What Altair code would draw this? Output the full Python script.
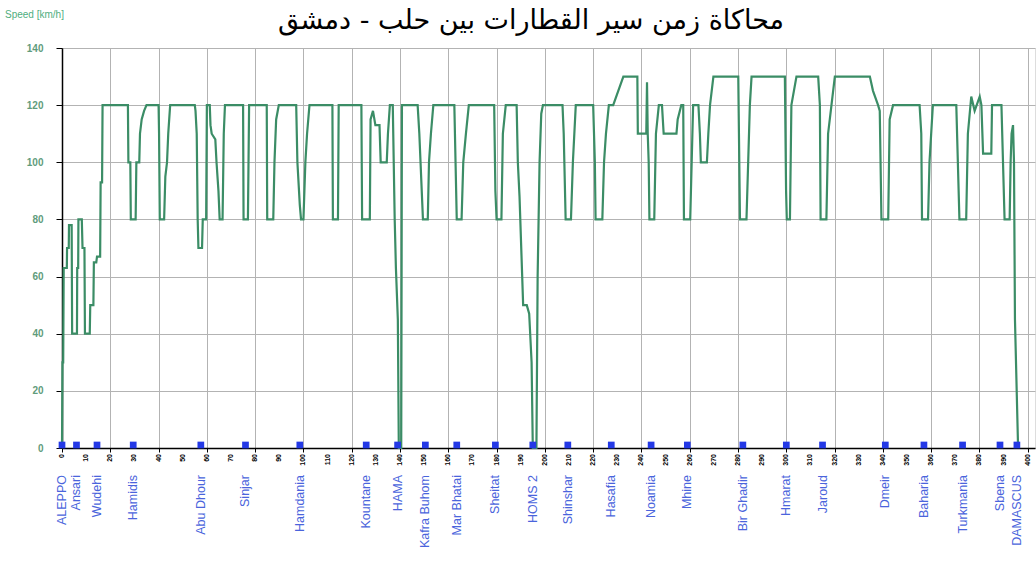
import altair as alt
import pandas as pd

# Speed profile along the line: distance (km) and train speed (km/h)
km = [
    0, 0.2, 0.5, 0.7, 2, 2.1, 2.8, 2.9, 4, 4.2, 6.2, 6.3, 6.7, 6.8, 8.2, 8.5, 9.3, 9.5,
    11.5, 11.7, 13, 13.2, 14.2, 14.5, 15.8, 16, 16.6, 16.8,
    27.3, 27.5, 28.3, 28.5, 30.5, 30.8, 32, 32.3, 33, 34, 35,
    40, 40.2, 40.5, 42.3, 42.8, 43.5, 44, 44.8,
    55, 55.3, 55.8, 56.2, 56.5, 58, 58.3, 59.7, 60, 61.2, 61.5, 62, 63.5, 64, 64.8, 65.3, 66.5, 67, 67.5,
    75, 75.2, 77, 77.5,
    84.8, 85, 87.5, 88, 88.7, 89.8,
    97, 97.5, 98.5, 99, 100, 100.8, 101.5, 102.5,
    112, 112.2, 114.3, 114.6,
    124, 124.3, 127.5, 127.8, 128.8, 129.8, 131.5, 132, 134.5, 135, 135.8,
    137, 137.8, 138.3, 139.1, 139.5, 140.5, 140.8,
    147.3, 148, 149.5, 151.5, 152, 152.8, 153.8,
    162.5, 163, 163.5, 165.5, 166.2, 167.3, 168.5,
    179, 179.5, 180, 182, 182.6, 183.8,
    188.3, 188.8, 189.5, 191, 192.5, 193.5, 194.5, 195, 196.5, 197, 197.8, 198.5, 199.2,
    207.3, 207.8, 208.6, 210.8, 211.6, 212.8,
    220, 220.7, 221, 223.8, 224.5, 225.3, 226.5,
    228.3, 232.5, 238.3, 238.5, 242, 242.3, 242.6, 243, 243.3, 245.3, 246, 247.2,
    248.5, 249.2, 254.5, 255, 256.5,
    257.3, 257.6, 260.2, 260.8, 261.4, 263.6, 264.2, 264.6, 267.1, 267.7, 268.4, 269.8,
    280.1, 280.8, 283.5, 284.2, 284.9, 285.6,
    299.4, 299.9, 300.2, 301.5, 302.1, 304.2,
    313.2, 313.9, 314.2, 316.6, 317.3, 318.7, 320.1,
    334.6, 335.9, 338.0, 338.7, 339.4, 342.2, 342.8, 344.2,
    355.2, 355.9, 356.2, 358.7, 359.3, 360.7,
    370.4, 371.7, 374.5, 375.2, 376.6, 378.0, 380.1, 380.8, 381.5, 384.9, 385.2, 389.1,
    390.4, 392.5, 392.9, 393.3, 393.9, 394.3, 394.7, 396.0,
]
speed = [
    0, 30, 30, 63, 63, 70, 70, 78, 78, 40, 40, 63, 63, 80, 80, 70, 70, 40,
    40, 50, 50, 65, 65, 67, 67, 93, 93, 120,
    120, 100, 100, 80, 80, 100, 100, 110, 115, 118, 120,
    120, 110, 80, 80, 95, 100, 110, 120,
    120, 118, 110, 80, 70, 70, 80, 80, 120, 120, 113, 110, 108, 100, 90, 80, 80, 110, 120,
    120, 80, 80, 120,
    120, 80, 80, 100, 115, 120,
    120, 100, 85, 80, 80, 100, 110, 120,
    120, 80, 80, 120,
    120, 80, 80, 115, 118, 113, 113, 100, 100, 110, 120,
    120, 80, 63, 45, 0, 0, 120,
    120, 110, 80, 80, 100, 110, 120,
    120, 100, 80, 80, 100, 110, 120,
    120, 90, 80, 80, 110, 120,
    120, 100, 88, 50, 50, 47, 30, 0, 0, 60, 100, 117, 120,
    120, 110, 80, 80, 100, 120,
    120, 100, 80, 80, 100, 110, 120,
    120, 130, 130, 110, 110, 128, 110, 100, 80, 80, 110, 120,
    120, 110, 110, 115, 120,
    120, 80, 80, 100, 120, 120, 110, 100, 100, 110, 120, 130,
    130, 80, 80, 100, 120, 130,
    130, 90, 80, 80, 120, 130,
    130, 120, 80, 80, 110, 120, 130,
    130, 125, 120, 118, 80, 80, 115, 120,
    120, 110, 80, 80, 100, 120,
    120, 80, 80, 110, 123, 118, 123, 120, 103, 103, 120, 120,
    80, 80, 100, 110, 113, 100, 45, 0,
]

# Stations along the route
station_names = [
    "ALEPPO", "Ansari", "Wudehi", "Hamidis", "Abu Dhour", "Sinjar", "Hamdania",
    "Kountane", "HAMA", "Kafra Buhom", "Mar Bhatai", "Sheitat", "HOMS 2",
    "Shinshar", "Hasafia", "Noamia", "Mhine", "Bir Ghadir", "Hmarat", "Jaroud",
    "Dmeir", "Baharia", "Turkmania", "Sbena", "DAMASCUS",
]
station_km = [
    0, 6, 14.5, 29.5, 57.5, 76, 98.5, 126, 139, 150.5, 163.5, 179.5, 195,
    209.5, 227.5, 244, 259, 282, 300, 315, 341, 357, 373, 388.5, 395.5,
]

x_ticks = list(range(0, 401, 10))
y_ticks = list(range(0, 141, 10))

TITLE = "محاكاة زمن سير القطارات بين حلب - دمشق"
Y_LABEL = "Speed [km/h]"

profile = pd.DataFrame({"km": km, "speed": speed, "seq": range(len(km))})
stations = pd.DataFrame({"station": station_names, "km": station_km,
                         "speed": [0] * len(station_km)})
ticks_df = pd.DataFrame({"km": x_ticks, "label": [str(v) for v in x_ticks]})
y_label_df = pd.DataFrame({"t": [Y_LABEL]})
title_df = pd.DataFrame({"t": [TITLE]})

x_scale = alt.Scale(domain=[0, 403], nice=False, zero=False)
y_scale = alt.Scale(domain=[0, 140], nice=False)

GRID = "#b3b3b3"

x_axis = alt.Axis(
    values=x_ticks, title=None, grid=True, gridColor=GRID, gridWidth=1,
    domainColor="#000000", domainWidth=1.5, tickColor="#000000", tickSize=4,
    labels=False,
)
y_axis = alt.Axis(
    values=y_ticks, title=None, grid=True, gridColor=GRID, gridWidth=1,
    domainColor="#000000", domainWidth=1.5, tickColor="#000000", tickSize=6,
    labelFontSize=10, labelFontWeight="bold", labelColor="#5f9c7c",
    labelPadding=13, labelFont="Liberation Sans",
)

line = alt.Chart(profile).mark_line(
    color="#3b8d66", strokeWidth=2.2, interpolate="linear"
).encode(
    x=alt.X("km:Q", scale=x_scale, axis=x_axis),
    y=alt.Y("speed:Q", scale=y_scale, axis=y_axis),
    order="seq:Q",
)

markers = alt.Chart(stations).mark_square(
    size=45, color="#2439e6", opacity=1, yOffset=-3
).encode(
    x=alt.X("km:Q", scale=x_scale),
    y=alt.Y("speed:Q", scale=y_scale),
)

# Distance labels under every 10 km tick, written upward
tick_labels = alt.Chart(ticks_df).mark_text(
    angle=270, align="right", baseline="middle", fontSize=7, fontWeight="bold",
    color="#000000", font="Liberation Sans"
).encode(
    x=alt.X("km:Q", scale=x_scale),
    y=alt.value(406),
    text="label:N",
)

names = alt.Chart(stations).mark_text(
    angle=270, align="right", baseline="middle", fontSize=12.5,
    color="#4a64dc", font="Liberation Sans"
).encode(
    x=alt.X("km:Q", scale=x_scale),
    y=alt.value(427),
    text="station:N",
)

speed_label = alt.Chart(y_label_df).mark_text(
    align="left", baseline="middle", fontSize=10, color="#4fae80",
    font="Liberation Sans"
).encode(
    x=alt.value(-57),
    y=alt.value(-33),
    text="t:N",
)

# Arabic heading centred above the plot
heading = alt.Chart(title_df).mark_text(
    align="center", baseline="middle", fontSize=27, color="#000000",
    font="DejaVu Sans"
).encode(
    x=alt.value(469),
    y=alt.value(-27),
    text="t:N",
)

chart = alt.layer(line, markers, tick_labels, names, speed_label, heading).properties(
    width=973,
    height=400,
    autosize=alt.AutoSizeParams(type="none"),
    padding={"left": 62, "top": 48, "right": 1, "bottom": 124},
).configure_view(strokeWidth=0).configure(background="#ffffff")

chart.save("out.html", embed_options={"renderer": "svg", "actions": False})
